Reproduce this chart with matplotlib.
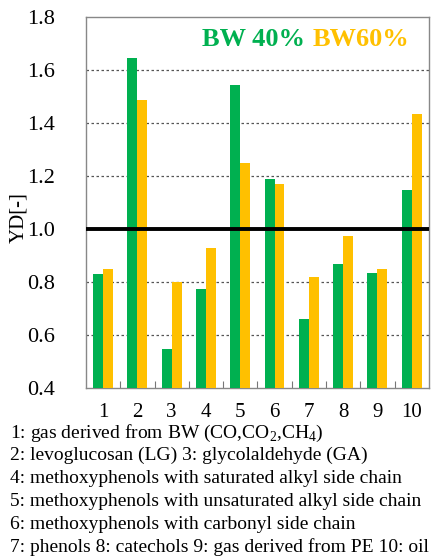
import matplotlib
matplotlib.use('Agg')
import matplotlib.pyplot as plt
import numpy as np

plt.rcParams['font.family'] = ['Liberation Serif', 'DejaVu Serif']
plt.rcParams['mathtext.fontset'] = 'custom'
plt.rcParams['mathtext.rm'] = 'Liberation Serif'

categories = ['1', '2', '3', '4', '5', '6', '7', '8', '9', '10']
bw40 = [0.83, 1.645, 0.546, 0.775, 1.546, 1.19, 0.66, 0.87, 0.835, 1.147]
bw60 = [0.85, 1.486, 0.80, 0.93, 1.248, 1.17, 0.82, 0.975, 0.85, 1.433]
yticks = [0.4, 0.6, 0.8, 1.0, 1.2, 1.4, 1.6, 1.8]
notes = [
    r'1: gas derived from BW (CO,CO$_2$,CH$_4$)',
    '2: levoglucosan (LG) 3: glycolaldehyde (GA)',
    '4: methoxyphenols with saturated alkyl side chain',
    '5: methoxyphenols with unsaturated alkyl side chain',
    '6: methoxyphenols with carbonyl side chain',
    '7: phenols 8: catechols 9: gas derived from PE 10: oil',
]

GREEN = '#00B050'
YELLOW = '#FFC000'

fig = plt.figure(figsize=(4.34, 5.56), dpi=100)
ax = fig.add_axes([0.198, 0.302, 0.79, 0.667])

x = np.arange(len(categories))
w = 0.29
ax.bar(x - w / 2, bw40, w, color=GREEN, zorder=3)
ax.bar(x + w / 2, bw60, w, color=YELLOW, zorder=3)

ax.set_xlim(-0.5, len(categories) - 0.5)
ax.set_ylim(0.4, 1.8)
for g in [0.6, 0.8, 1.2, 1.4, 1.6]:
    ax.axhline(g, color='#555555', linestyle=(0, (2, 2)), linewidth=0.9, zorder=1)
ax.axhline(1.0, color='black', linewidth=2.8, zorder=4)

ax.set_yticks(yticks)
ax.set_yticklabels([f'{t:.1f}' for t in yticks], fontsize=16)
ax.tick_params(axis='y', length=0, pad=22)

ax.set_xticks(np.arange(0.5, len(categories) - 0.5, 1))
ax.set_xticklabels([])
ax.tick_params(axis='x', which='major', direction='in', length=5, color='#777777')
ax.set_xticks(x, minor=True)
ax.set_xticklabels(categories, minor=True, fontsize=15)
ax.tick_params(axis='x', which='minor', length=0, pad=11)

for s in ax.spines.values():
    s.set_color('#888888')
    s.set_linewidth(1.0)

fig.text(19 / 434, 1 - 218 / 556, 'YD[-]', rotation=90, fontsize=15,
         ha='center', va='center')

ax.text(0.638, 0.94, 'BW 40%', color=GREEN, fontsize=19, fontweight='bold',
        ha='right', va='center', transform=ax.transAxes)
ax.text(0.662, 0.94, 'BW60%', color=YELLOW, fontsize=19, fontweight='bold',
        ha='left', va='center', transform=ax.transAxes)

y0 = 433
for i, line in enumerate(notes):
    fig.text(10 / 434, 1 - (y0 + i * 22.8) / 556, line, fontsize=14,
             ha='left', va='center')

fig.savefig('out.png', dpi=100)
